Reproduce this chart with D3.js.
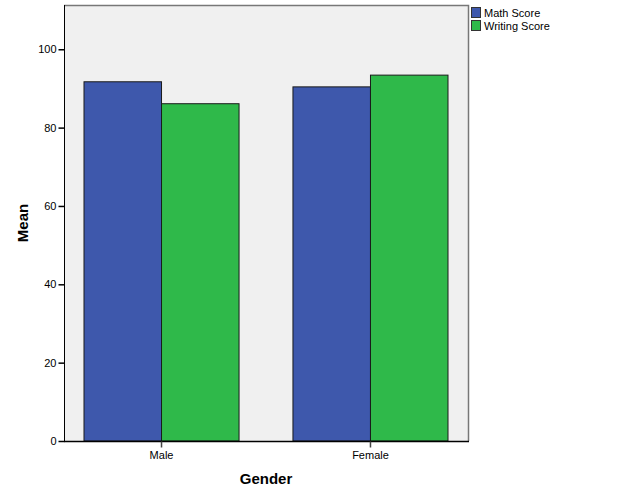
<!DOCTYPE html>
<html>
<head>
<meta charset="utf-8">
<script src="https://cdn.jsdelivr.net/npm/d3@7"></script>
<style>
  body { margin: 0; background: #fff; }
  svg text { font-family: "Liberation Sans", Arial, sans-serif; }
</style>
</head>
<body>
<div id="chart"></div>
<script>
// data
var genders = ["Male", "Female"];
var seriesNames = ["Math Score", "Writing Score"];
var mathScore = [91.7, 90.4];
var writingScore = [86.1, 93.4];
var yTicks = [0, 20, 40, 60, 80, 100];
var colors = ["#3e58ac", "#2fb94a"];

var width = 626, height = 501;
var plotLeft = 64, plotRight = 468, plotTop = 5, plotBottom = 441;

var svg = d3.select("#chart").append("svg")
    .attr("width", width)
    .attr("height", height);

var xScale = d3.scaleBand().domain(genders).range([plotLeft, plotRight])
    .paddingInner(0.258).paddingOuter(0.0957);
var xSub = d3.scaleBand().domain(seriesNames).range([0, xScale.bandwidth()]);
var yScale = d3.scaleLinear().domain([0, 111.3]).range([plotBottom, plotTop]);

// plot background
svg.append("rect")
    .attr("x", plotLeft).attr("y", plotTop)
    .attr("width", plotRight - plotLeft).attr("height", plotBottom - plotTop)
    .attr("fill", "#f0f0f0");

var data = genders.map(function(g, i) {
    return [mathScore[i], writingScore[i]];
});

var groups = svg.selectAll("g.group")
    .data(data)
    .enter().append("g")
    .attr("class", "group")
    .attr("transform", function(d, i) { return "translate(" + xScale(genders[i]) + ",0)"; });

groups.selectAll("rect")
    .data(function(d) { return d; })
    .enter().append("rect")
    .attr("x", function(d, j) { return xSub(seriesNames[j]); })
    .attr("y", function(d) { return yScale(d); })
    .attr("width", xSub.bandwidth())
    .attr("height", function(d) { return plotBottom - yScale(d); })
    .attr("fill", function(d, j) { return colors[j]; })
    .attr("stroke", "#1a1a1a")
    .attr("stroke-width", 1);

// frame: top and right gray
svg.append("path")
    .attr("d", "M" + plotLeft + "," + (plotTop + 0.5) + "H" + (plotRight + 0.5) + "V" + plotBottom)
    .attr("fill", "none").attr("stroke", "#777").attr("stroke-width", 1.5);

// y axis
var yAxis = d3.axisLeft(yScale).tickValues(yTicks).tickSize(6).tickPadding(2);
var gy = svg.append("g")
    .attr("transform", "translate(" + (plotLeft + 0.5) + ",0)")
    .call(yAxis);
gy.select(".domain").attr("d", "M0," + plotTop + "V" + (plotBottom + 0.5)).attr("stroke", "#000");
gy.selectAll(".tick line").attr("stroke", "#000").attr("stroke-width", 1.5);
gy.selectAll("text").attr("font-size", 11).attr("fill", "#000")
    .attr("font-family", "Liberation Sans, Arial, sans-serif");

// x axis
var xAxis = d3.axisBottom(xScale).tickSize(6).tickPadding(4);
var gx = svg.append("g")
    .attr("transform", "translate(0," + (plotBottom + 0.5) + ")")
    .call(xAxis);
gx.select(".domain").attr("d", "M" + plotLeft + ",0H" + (plotRight + 1)).attr("stroke", "#000").attr("stroke-width", 1.5);
gx.selectAll(".tick line").attr("stroke", "#444").attr("stroke-width", 1.5);
gx.selectAll("text").attr("font-size", 11).attr("fill", "#000")
    .attr("font-family", "Liberation Sans, Arial, sans-serif");

// axis titles
svg.append("text")
    .attr("x", (plotLeft + plotRight) / 2).attr("y", 484)
    .attr("text-anchor", "middle")
    .attr("font-size", 15).attr("font-weight", "bold")
    .text("Gender");

svg.append("text")
    .attr("transform", "translate(28," + ((plotTop + plotBottom) / 2) + ") rotate(-90)")
    .attr("text-anchor", "middle")
    .attr("font-size", 15).attr("font-weight", "bold")
    .text("Mean");

// legend
var legend = svg.selectAll("g.legend")
    .data(seriesNames)
    .enter().append("g")
    .attr("class", "legend")
    .attr("transform", function(d, i) { return "translate(471," + (7 + i * 13) + ")"; });

legend.append("rect")
    .attr("x", 0.5).attr("y", 0.5)
    .attr("width", 9).attr("height", 10)
    .attr("fill", function(d, i) { return colors[i]; })
    .attr("stroke", "#333");

legend.append("text")
    .attr("x", 13).attr("y", 9.5)
    .attr("font-size", 11)
    .text(function(d) { return d; });
</script>
</body>
</html>
